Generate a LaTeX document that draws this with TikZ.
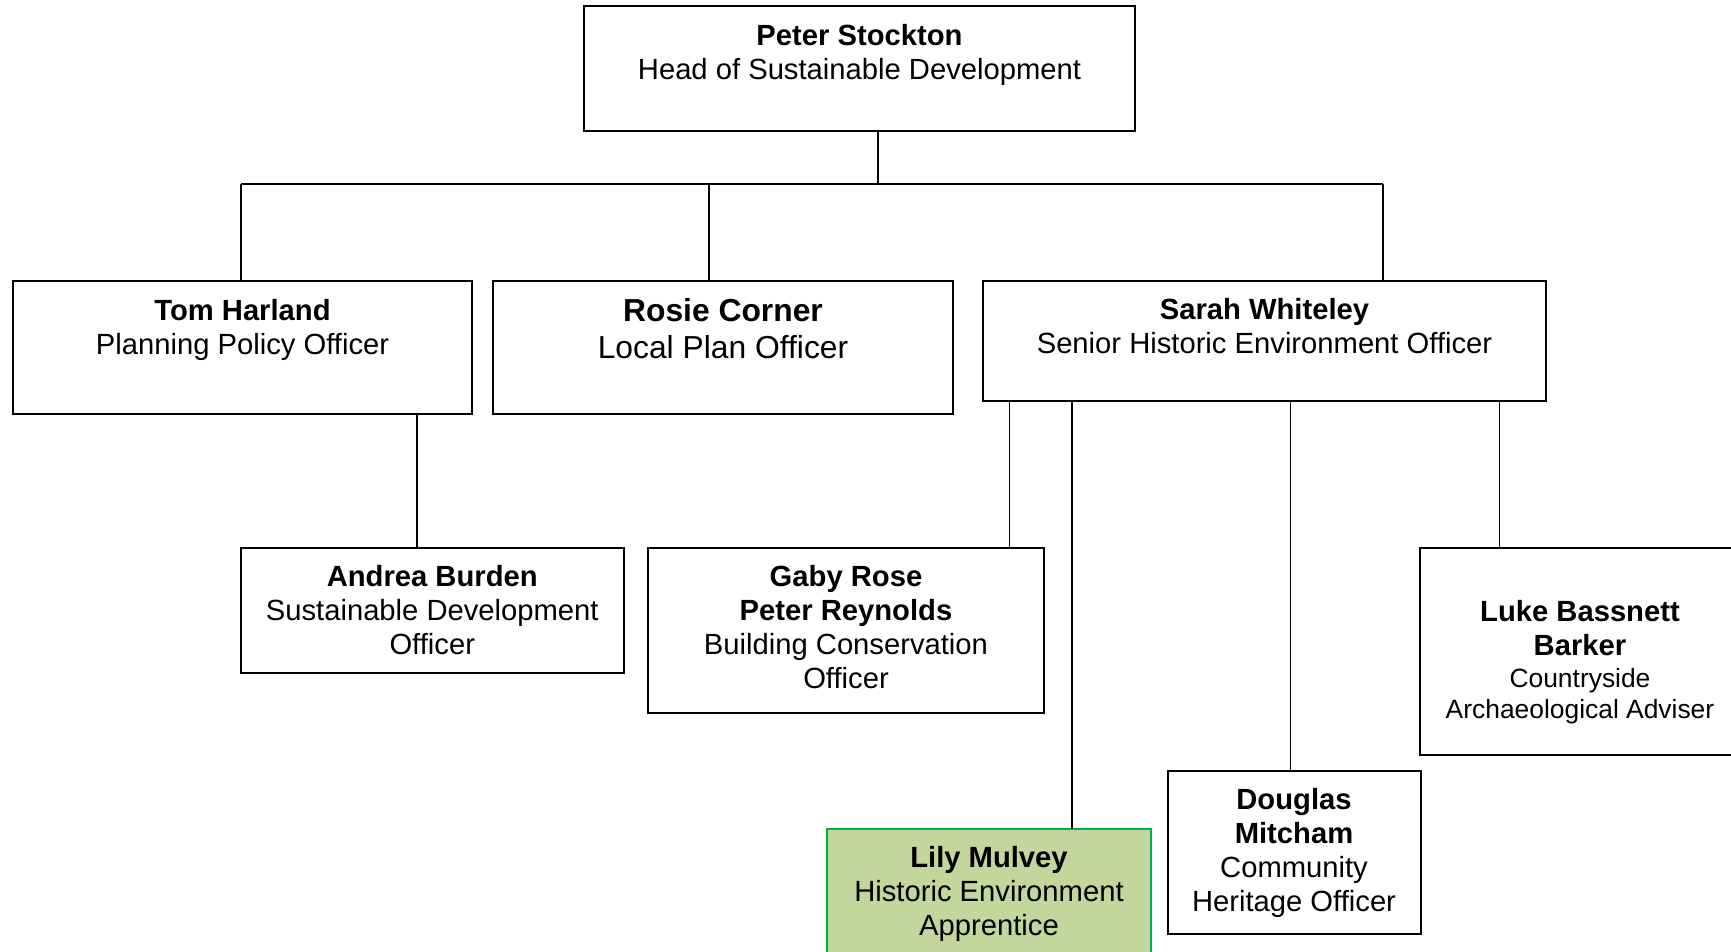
\documentclass[tikz,border=0pt]{standalone}
\usepackage{fontspec}
\setmainfont{Liberation Sans}
\usetikzlibrary{calc}
\definecolor{lilyfill}{HTML}{C3D69B}
\definecolor{lilyline}{HTML}{00B050}
\newcommand{\orgnrm}{\fontsize{14.6}{17}\selectfont}
\newcommand{\orgbig}{\fontsize{15.9}{18.4}\selectfont}
\newcommand{\orgsml}{\fontsize{13.2}{15.2}\selectfont}
\tikzset{
  orgbox/.style={draw=black, line width=1pt, fill=white, rectangle, inner sep=0pt, outer sep=0pt},
  lilybox/.style={orgbox, draw=lilyline, fill=lilyfill},
  orgtxt/.style={anchor=north, align=center, inner sep=0pt, font=\orgnrm, text=black},
  conn/.style={draw=black, line width=0.75pt}
}
\begin{document}
\begin{tikzpicture}[x=0.5pt, y=-0.5pt]
\useasboundingbox (0,0) rectangle (1731,952);
% boxes
\node[orgbox, minimum width=275.5pt, minimum height=62.5pt] (peter) at (859.5,68.5) {};
\node[orgbox, minimum width=229.5pt, minimum height=66.5pt] (tom) at (242.5,347.5) {};
\node[orgbox, minimum width=230pt, minimum height=66.5pt] (rosie) at (723,347.5) {};
\node[orgbox, minimum width=281.5pt, minimum height=60pt] (sarah) at (1264.5,341) {};
\node[orgbox, minimum width=191.75pt, minimum height=62.5pt] (andrea) at (432.25,610.5) {};
\node[orgbox, minimum width=198pt, minimum height=82.5pt] (gaby) at (846,630.5) {};
\node[orgbox, minimum width=160pt, minimum height=103.5pt] (luke) at (1580,651.5) {};
\node[orgbox, minimum width=126.5pt, minimum height=81.5pt] (douglas) at (1294,852.5) {};
\node[lilybox, minimum width=162pt, minimum height=68pt] (lily) at (989,897) {};
% texts
\node[orgtxt] (peterT) at ($(peter.north)+(0,15)$) {\strut\textbf{Peter Stockton}\\Head of Sustainable Development};
\node[orgtxt] (tomT) at ($(tom.north)+(0,15)$) {\strut\textbf{Tom Harland}\\Planning Policy Officer};
\node[orgtxt, font=\orgbig] (rosieT) at ($(rosie.north)+(0,14.8)$) {\strut\textbf{Rosie Corner}\\Local Plan Officer};
\node[orgtxt] (sarahT) at ($(sarah.north)+(0,14.2)$) {\strut\textbf{Sarah Whiteley}\\Senior Historic Environment Officer};
\node[orgtxt] (andreaT) at ($(andrea.north)+(0,14.5)$) {\strut\textbf{Andrea Burden}\\Sustainable Development\\Officer};
\node[orgtxt] (gabyT) at ($(gaby.north)+(0,14.5)$) {\strut\textbf{Gaby Rose}\\\textbf{Peter Reynolds}\\Building Conservation\\Officer};
\node[orgtxt] (lukeT) at ($(luke.north)+(0,49)$) {\strut\textbf{Luke Bassnett}\\\textbf{Barker}\\[-1.1pt]{\orgsml Countryside}\\[-1.1pt]{\orgsml Archaeological Adviser}};
\node[orgtxt] (douglasT) at ($(douglas.north)+(0,14.5)$) {\strut\textbf{Douglas}\\\textbf{Mitcham}\\Community\\Heritage Officer};
\node[orgtxt] (lilyT) at ($(lily.north)+(0,14.5)$) {\strut\textbf{Lily Mulvey}\\Historic Environment\\Apprentice};
% junctions
\coordinate (jP) at (878,184);
\coordinate (jT) at (241,184);
\coordinate (jR) at (709,184);
\coordinate (jS) at (1383,184);
\coordinate (xA) at (417,0);
\coordinate (xG) at (1009.5,0);
\coordinate (xL) at (1072,0);
\coordinate (xD) at (1290.5,0);
\coordinate (xB) at (1499.5,0);
% connectors
\draw[conn] (peter.south -| jP) -- (jP);
\draw[conn] (jT) -- (jS);
\draw[conn] (jT) -- (jT |- tom.north);
\draw[conn] (jR) -- (jR |- rosie.north);
\draw[conn] (jS) -- (jS |- sarah.north);
\draw[conn] (tom.south -| xA) -- (andrea.north -| xA);
\draw[conn] (sarah.south -| xG) -- (gaby.north -| xG);
\draw[conn] (sarah.south -| xL) -- (lily.north -| xL);
\draw[conn] (sarah.south -| xD) -- (douglas.north -| xD);
\draw[conn] (sarah.south -| xB) -- (luke.north -| xB);
\end{tikzpicture}
\end{document}
